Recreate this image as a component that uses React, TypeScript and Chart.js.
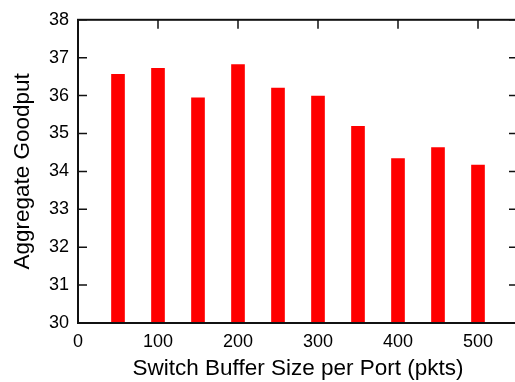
import React, { useEffect, useRef } from "react";
import { Chart, registerables } from "chart.js";

Chart.register(...registerables);

const bufferSizes = [50, 100, 150, 200, 250, 300, 350, 400, 450, 500];
const goodput = [36.56, 36.72, 35.94, 36.82, 36.2, 35.99, 35.19, 34.34, 34.63, 34.17];
const xTickValues = [0, 100, 200, 300, 400, 500];
const yTickValues = [30, 31, 32, 33, 34, 35, 36, 37, 38];
const xTitle = "Switch Buffer Size per Port (pkts)";
const yTitle = "Aggregate Goodput";

const FONT = "'Liberation Sans', Arial, Helvetica, sans-serif";
const TICK_LEN = 9;

const framePlugin = {
  id: "frame",
  beforeDatasetsDraw(chart: any) {
    const { ctx, chartArea: a, scales } = chart;
    ctx.save();
    ctx.strokeStyle = "#111";
    ctx.lineWidth = 1.5;
    ctx.beginPath();
    for (const v of yTickValues) {
      const y = scales.y.getPixelForValue(v);
      ctx.moveTo(a.left, y);
      ctx.lineTo(a.left + TICK_LEN, y);
      ctx.moveTo(a.right, y);
      ctx.lineTo(a.right - TICK_LEN, y);
    }
    for (const v of xTickValues) {
      const x = scales.x.getPixelForValue(v);
      ctx.moveTo(x, a.top);
      ctx.lineTo(x, a.top + TICK_LEN);
      ctx.moveTo(x, a.bottom);
      ctx.lineTo(x, a.bottom - TICK_LEN);
    }
    ctx.stroke();
    ctx.restore();
  },
  afterDatasetsDraw(chart: any) {
    const { ctx, chartArea: a } = chart;
    ctx.save();
    ctx.strokeStyle = "#111";
    ctx.lineWidth = 2;
    ctx.strokeRect(a.left, a.top, a.right - a.left, a.bottom - a.top);
    ctx.restore();
  },
};

export default function App() {
  const ref = useRef<HTMLCanvasElement>(null);
  useEffect(() => {
    if (!ref.current) return;
    const chart = new Chart(ref.current, {
      type: "bar",
      data: {
        datasets: [
          {
            data: bufferSizes.map((x, i) => ({ x, y: goodput[i] })),
            backgroundColor: "#ff0000",
            borderWidth: 0,
            barThickness: 13,
          },
        ],
      },
      options: {
        responsive: false,
        animation: false,
        events: [],
        layout: { padding: { top: 15, right: 12, left: 0, bottom: 0 } },
        plugins: { legend: { display: false }, tooltip: { enabled: false } },
        scales: {
          x: {
            type: "linear",
            offset: false,
            min: 0,
            max: 550,
            grid: { display: false, drawTicks: false, offset: false },
            border: { display: false },
            afterBuildTicks: (s: any) => {
              s.ticks = xTickValues.map((v) => ({ value: v }));
            },
            afterFit: (s: any) => {
              s.height = 59;
            },
            ticks: {
              padding: 8,
              color: "#000",
              font: { family: FONT, size: 18 },
              maxRotation: 0,
            },
            title: {
              display: true,
              text: xTitle,
              color: "#000",
              font: { family: FONT, size: 22.5 },
              padding: { top: 0, bottom: 0 },
            },
          },
          y: {
            min: 30,
            max: 38,
            grid: { display: false, drawTicks: false },
            border: { display: false },
            afterBuildTicks: (s: any) => {
              s.ticks = yTickValues.map((v) => ({ value: v }));
            },
            afterFit: (s: any) => {
              s.width = 78;
            },
            ticks: {
              padding: 9,
              color: "#000",
              font: { family: FONT, size: 18 },
            },
            title: {
              display: true,
              text: yTitle,
              color: "#000",
              font: { family: FONT, size: 22.5 },
              padding: { top: 9.5, bottom: 0 },
            },
          },
        },
      },
      plugins: [framePlugin],
    } as any);
    return () => chart.destroy();
  }, []);

  return (
    <div
      style={{
        position: "absolute",
        left: 0,
        top: 0,
        width: 515,
        height: 382,
        overflow: "hidden",
        background: "#fff",
      }}
    >
      <canvas ref={ref} width={530} height={382} style={{ display: "block" }} />
    </div>
  );
}
